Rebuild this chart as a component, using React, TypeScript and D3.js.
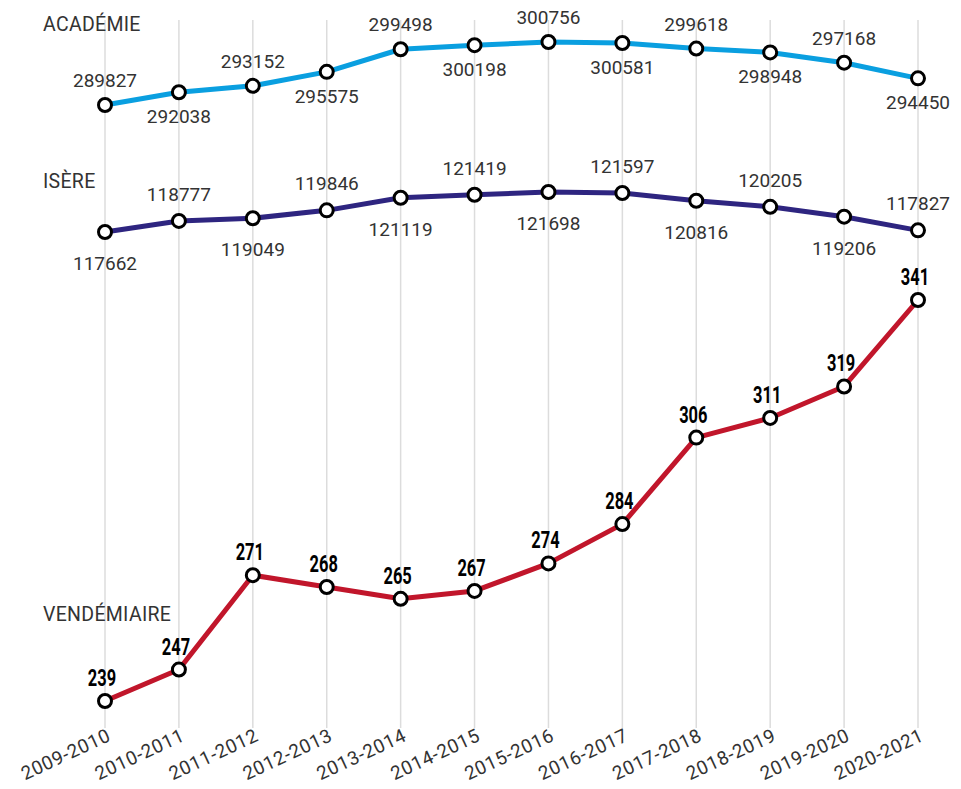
import React from "react";
import * as d3 from "d3";

const categories = [
  "2009-2010", "2010-2011", "2011-2012", "2012-2013", "2013-2014", "2014-2015",
  "2015-2016", "2016-2017", "2017-2018", "2018-2019", "2019-2020", "2020-2021",
];
const academie = [289827, 292038, 293152, 295575, 299498, 300198, 300756, 300581, 299618, 298948, 297168, 294450];
const isere = [117662, 118777, 119049, 119846, 121119, 121419, 121698, 121597, 120816, 120205, 119206, 117827];
const vendemiaire = [239, 247, 271, 268, 265, 267, 274, 284, 306, 311, 319, 341];
const seriesNames = ["ACADÉMIE", "ISÈRE", "VENDÉMIAIRE"];

const W = 961;
const H = 789;
const FONT = "Roboto, 'DejaVu Sans', sans-serif";

export default function App() {
  const x = d3.scalePoint<string>().domain(categories).range([105, 918]);
  const yA = d3.scaleLinear().domain(d3.extent(academie) as [number, number]).range([105, 42]);
  const yI = d3.scaleLinear().domain(d3.extent(isere) as [number, number]).range([232, 192]);
  const yV = d3.scaleLinear().domain(d3.extent(vendemiaire) as [number, number]).range([701, 300]);

  const series = [
    { name: seriesNames[0], data: academie, y: yA, color: "#0a9fe0", titleY: 31,
      labelOffset: (i: number) => (i % 2 === 0 ? -18 : 31), bold: false },
    { name: seriesNames[1], data: isere, y: yI, color: "#2e2580", titleY: 188,
      labelOffset: (i: number) => (i % 2 === 0 ? 38 : -20), bold: false },
    { name: seriesNames[2], data: vendemiaire, y: yV, color: "#c1162b", titleY: 621,
      labelOffset: () => -15, bold: true },
  ];

  return (
    <svg width={W} height={H} style={{ position: "absolute", left: 0, top: 0, background: "#fff" }}>
      <g>
        {categories.map((c) => (
          <line key={c} x1={x(c)} x2={x(c)} y1={20} y2={728} stroke="#dcdcdc" strokeWidth={1.5} />
        ))}
      </g>
      {series.map((s) => {
        const line = d3
          .line<number>()
          .x((_, i) => x(categories[i]) as number)
          .y((d) => s.y(d));
        return (
          <g key={s.name}>
            <text x={43} y={s.titleY} fontFamily={FONT} fontSize={19.5} fill="#333" letterSpacing={0.3}>
              {s.name}
            </text>
            <path d={line(s.data) || ""} fill="none" stroke={s.color} strokeWidth={5} strokeLinejoin="round" />
            {s.data.map((d, i) => (
              <circle key={i} cx={x(categories[i])} cy={s.y(d)} r={6.5} fill="#fff" stroke="#000" strokeWidth={3} />
            ))}
            {s.data.map((d, i) =>
              s.bold ? (
                <text
                  key={"t" + i}
                  transform={`translate(${(x(categories[i]) as number) - 3},${s.y(d) + s.labelOffset(i)}) scale(0.7,1)`}
                  textAnchor="middle"
                  fontFamily={FONT}
                  fontWeight={700}
                  fontSize={23.5}
                  fill="#000"
                >
                  {d}
                </text>
              ) : (
                <text
                  key={"t" + i}
                  x={x(categories[i])}
                  y={s.y(d) + s.labelOffset(i)}
                  textAnchor="middle"
                  fontFamily={FONT}
                  fontSize={19}
                  fill="#333"
                >
                  {d}
                </text>
              )
            )}
          </g>
        );
      })}
      <g>
        {categories.map((c) => (
          <text
            key={c}
            transform={`translate(${(x(c) as number) + 7},${740}) rotate(-25)`}
            textAnchor="end"
            fontFamily={FONT}
            fontSize={19}
            letterSpacing={0.6}
            fill="#333"
          >
            {c}
          </text>
        ))}
      </g>
    </svg>
  );
}
